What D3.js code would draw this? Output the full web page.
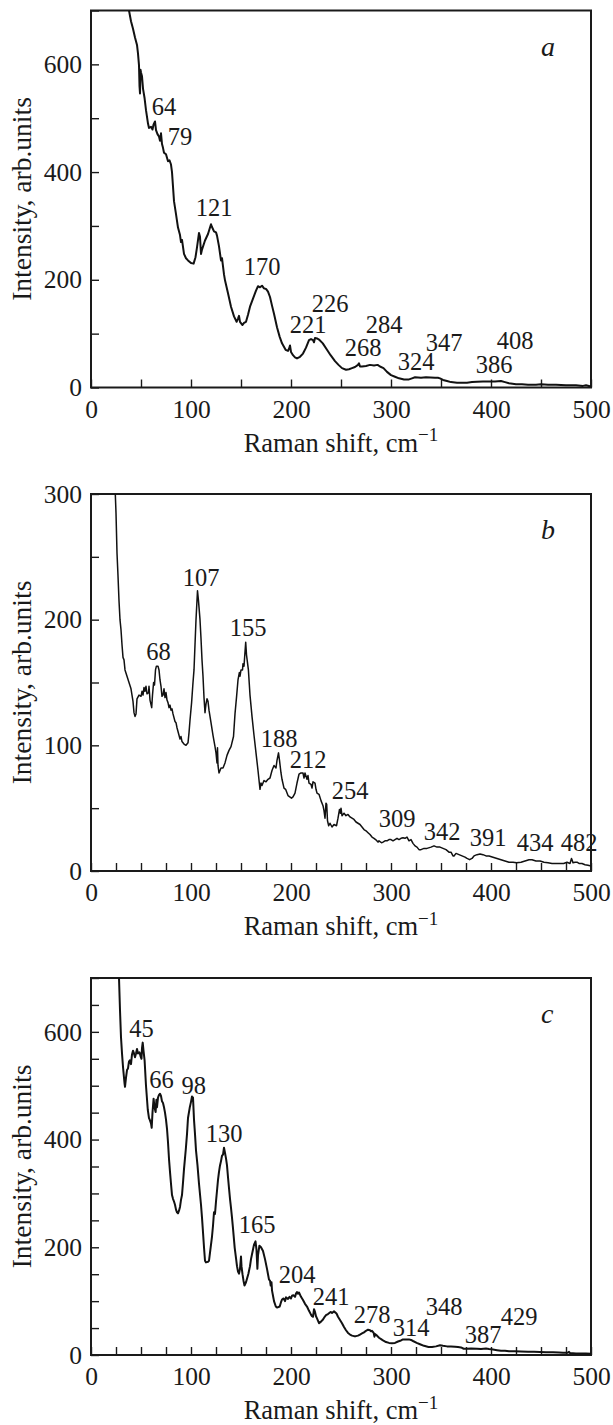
<!DOCTYPE html>
<html>
<head>
<meta charset="utf-8">
<script src="https://cdn.jsdelivr.net/npm/d3@7"></script>
<style>
  body { margin: 0; background: #fff; }
  svg text { font-family: "Liberation Serif", "Times New Roman", "DejaVu Serif", serif; fill: #1a1a1a; }
</style>
</head>
<body>
<div id="chart"></div>
<script>
// spectra: [Raman shift, intensity]
const spectrumA = [[38,700],[40,680],[42,666],[44,650],[46,636],[47,620],[48,598],[48.5,560],[49,546],[49.5,590],[50,585],[51,578],[52,555],[53.6,537],[55,515],[57,490],[58,482],[60,484],[61.5,479],[62.5,488],[64,494],[65,478],[66.6,470],[68,466],[69,458],[70,472],[71,452],[72,445],[73,436],[75,433],[77,420],[78.5,422],[80,414],[81,400],[83,346],[85,322],[87,297],[89,283],[90,270],[91,274],[93,248],[95,240],[97,236],[100,231],[102.6,230],[104.5,242],[106,260],[108,287],[109,280],[110,248],[111,256],[114,273],[117,285],[120,303],[121,298],[123,290],[125,288],[126,282],[128,262],[130,236],[131,240],[133,210],[134,199],[137,175],[140,150],[143,132],[145.6,122],[147,128],[148,133],[149,122],[151.5,116],[153,120],[155,122],[157,135],[159,150],[162,165],[165,180],[167,188],[169,186],[171,189],[173,184],[175,183],[177,178],[179,168],[181,152],[183,137],[186,112],[188.7,94],[191,82],[194.6,70],[197,68],[198,72],[199,78],[200,66],[202,60],[204,56],[206,54],[209,57],[212,63],[215,74],[218,88],[220,90],[222,88],[223,84],[224,92],[226,91],[228,89],[231.8,82],[236,70],[239.6,60],[244,49],[247.5,42],[251,36],[255,33],[258,34],[261,36],[264,38],[267,42],[268,45],[269,39],[271,39],[275,40],[279,42],[283,41],[286.6,42],[289,39],[292.5,36],[296,29],[300,23],[304,20],[308,17],[313,15],[318,15],[321,17],[324,19],[330,18],[335,19],[339.5,18.5],[344,18],[347,18],[349,17],[352,14],[356,12],[360,10],[366,9],[371,9],[376,9],[381,10],[386,10.5],[392,11],[398,11],[404,11],[410,12],[414,10],[418,8],[425,6],[431,6],[437,5],[445,5],[450,6],[457,5],[465,5],[475,4],[485,4],[492,3],[495,4],[500,2]];

const spectrumB = [[24.3,300],[25,285],[26,253],[27,235],[28,215],[29,200],[30,192],[31,180],[32,170],[33,168],[34,160],[36,155],[38,150],[40,145],[42,135],[43,126],[44,123],[45,125],[46,137],[48,140],[50,139],[51,143],[52,140],[53,146],[54,143],[55,147],[56,141],[57.5,142],[58,147],[59,136],[60.7,130],[61.5,140],[62.6,150],[63.5,148],[64.5,160],[65.4,163],[67,163],[68,160],[69,152],[70,147],[71,139],[72,140],[73,145],[74,138],[75,142],[76,136],[77,134],[78,130],[79,132],[80,128],[81,129],[82,125],[84,119],[85,118],[86,114],[88,108],[89,105],[90,107],[91,103],[93,101],[95,100],[97,102],[98,110],[99,120],[100.6,134],[102,150],[103,160],[104,180],[105,200],[106.5,223],[107.5,215],[109,200],[110,185],[111,168],[112,155],[113,138],[114,126],[115,133],[116,137],[117,135],[118,128],[120,118],[122,108],[124,99],[125,94],[126,86],[126.5,98],[127,84],[128,78],[129,80],[130,82],[132,82],[134,86],[136,92],[138,96],[140,99],[142.5,107],[144,125],[145.6,139],[147,152],[148.4,158],[149,155],[150,160],[151.5,160],[152,165],[153,163],[154.7,182],[155.5,172],[157.4,160],[159,140],[161,123],[163,108],[165,94],[167,80],[169,65],[170,70],[171,68],[173,72],[175,71],[177,73],[179,74],[181,80],[183,84],[185,82],[186,88],[187.5,94],[188.5,88],[190,78],[191,73],[193,66],[194.6,65],[197,60],[200.5,58],[202,59],[204,62],[206,70],[208,77],[210,78],[212,78],[213,74],[214,78],[216,73],[217,76],[218,70],[220,69],[221,66],[222,71],[224,70],[225,65],[226,62],[228,61],[230,56],[232,52],[233,48],[234,42],[235,54],[235.7,53],[236.5,40],[237.7,36],[239,38],[241,35],[243,37],[245.5,36],[247,42],[248.5,49],[249.4,46],[250,50],[251,44],[253,46],[255,44],[257,45],[259,43],[261,42],[263,41],[265,39],[267,38],[269,37],[271,35],[273,33],[275,32],[277,30.5],[279,29],[281,27],[283,26],[284.6,25],[287,23],[288,24],[290.5,22.5],[292,23],[294,24],[296,24],[298,25],[300,25],[302,24],[304,25],[306,26],[308,25],[310,26],[312,26.5],[314,26],[316,27],[318,24],[320,25],[322,22],[324,20],[326,19],[328,17],[330,17],[333,18],[336,18],[340,19],[343,20],[346,19],[349,19],[352,18],[355,17],[358,15],[360,15],[362,12],[363,12],[365,14],[368,13],[371,12],[374,11],[376,10],[378.6,9],[381,10],[383,12],[386,13],[389,13.5],[392,13],[395,12],[398,12],[402,11],[406,10],[410,9],[414,8],[418,7],[422,7],[425.6,6.6],[430,7],[434,8],[438,9],[441,9],[445,8],[449,8],[453,7],[457,6.6],[461,6],[465,6],[469,6],[472.6,6],[476,7],[479,6],[480.5,10],[481,9],[482,6.6],[484,7],[486,7],[488,6],[491,6],[494,5],[497,4.5],[500,4]];

const spectrumC = [[28,700],[29,640],[30,590],[31,560],[32,535],[33.5,505],[34,498],[35,515],[36,529],[37,532],[38,545],[38.8,547],[40,540],[41,558],[42,565],[43,560],[44,553],[45,560],[46,568],[47,560],[48.5,562],[49.5,555],[50.5,550],[51,570],[51.7,580],[52.5,565],[53.6,547],[55,500],[56.8,455],[58,440],[58.7,437],[60,430],[60.7,422],[61.5,450],[62.6,476],[63.5,460],[64.6,451],[65.4,474],[66,460],[67,478],[68,483],[69,485],[70,481],[71,471],[72,468],[73,460],[74,450],[75,437],[76,420],[77,395],[78,364],[79,340],[80,318],[81,297],[82,290],[83,285],[84,279],[85,270],[86,265],[87,263],[88,268],[89,275],[90,288],[91,297],[92,320],[93,345],[94.8,382],[96,410],[97,440],[98.7,459],[100,470],[101,480],[101.4,472],[102,478],[103,437],[104,410],[105,380],[106.5,352],[108,318],[110,279],[111,255],[112,228],[113,200],[114,175],[115,172],[117,173],[118,175],[119,190],[120,205],[121,220],[122,240],[123,265],[124,262],[125,285],[126,305],[127,325],[128,340],[129,352],[130,360],[131,370],[132,372],[133,385],[134,375],[135,365],[136,352],[137,330],[138,310],[139,290],[140,273],[141,255],[142,235],[143.7,199],[145,180],[146,165],[147,155],[148,151],[149,160],[150,183],[150.5,165],[151.5,150],[152.5,138],[153.5,129],[155,135],[157.4,151],[159,165],[160,178],[161,187],[162,196],[163,205],[164.5,211],[165.5,195],[166.4,160],[167,185],[168.4,203],[170,200],[172,193],[174,178],[176,160],[177,150],[178,140],[179,138],[179.7,129],[180.5,135],[181,120],[182,110],[183,100],[184.8,90],[186,88],[188.7,90],[190,98],[191,103],[192.6,105],[194,100],[195,107],[197,104],[198.5,108],[200,105],[201,110],[202.4,111],[204,108],[205,114],[206,117],[207,114],[208,116],[210,108],[212,102],[214,95],[216,90],[218,82],[220,75],[221,72],[222,71],[223,85],[224,80],[225,72],[226,68],[228,59],[230,62],[232,66],[233.7,71],[235,74],[237,76],[239.6,80],[241,78],[243,81],[245.5,77],[247,71],[249,65],[251,59],[253,52],[255,46],[257,41],[259,38],[261,36],[263,35],[265,35],[267,36],[269,38],[271,40],[273,42],[275,45],[277,47],[279,46],[280,44],[281,45],[282.7,41],[283.5,34],[284,39],[286,36],[288,32],[290.5,29],[292,27],[295,24],[298,22.5],[301,22],[304,22.5],[307,25],[310,27],[312,29],[315,29],[318,29],[320,28],[322,26],[325.7,22.5],[329,20],[333,17],[337.5,15],[341,15],[345,16],[349,18],[352,17],[356,16],[360,16],[364,15.5],[367,15],[370,14],[372.7,11.6],[376,11.5],[380,12],[386,11.6],[390,11],[395,12],[398,11],[402,10],[406,9],[410,8],[414,8],[418,7],[424,7],[430,6.5],[437,6],[443,6],[449,5.5],[455,5],[462,5],[468,4.5],[472,4],[476.5,4],[478,6],[479,3.5],[485,3],[490,3],[495,2.8],[500,2.4]];

// peak labels: [text, shift, intensity] (anchor of the number, data units)
const peaksA = [["64",73,506],["79",89,450],["121",123,319],["170",171,209],["226",239,141],["221",217,101],["284",293,101],["268",272,59],["347",353,68],["324",325,33],["408",424,72],["386",403,27]];
const peaksB = [["68",67.5,168],["107",110,227],["155",157,187],["188",188,99],["212",217,82],["254",259,57],["309",306,35],["342",351,25],["391",397,20],["434",444,16],["482",488,16]];
const peaksC = [["45",50.5,591],["66",70.5,495],["98",102.7,484],["130",133,396],["165",166,227],["204",206,133],["241",240,93],["278",281,60],["314",320,35],["348",353,75],["387",392,23],["429",428,56]];

const panelLetters = ["a", "b", "c"];
const xDomain = [0, 500];
const yMaxes = [700, 300, 700];
const yLabelSteps = [200, 100, 200];
const yTickSteps = [100, 50, 50];
const xTickSteps = [50, 25, 25];

const width = 613, height = 1425;
const left = 91, right = 591;
const tops = [10.5, 494, 978];
const plotH = 377;
const serif = '"Liberation Serif", "Times New Roman", "DejaVu Serif", serif';

let svg = d3.select("#chart")
    .append("svg")
    .attr("width", width)
    .attr("height", height)
    .attr("font-family", serif);

let spectra = [spectrumA, spectrumB, spectrumC];
let peaks = [peaksA, peaksB, peaksC];

function drawPanel(i) {
    let top = tops[i], bottom = tops[i] + plotH;

    let x = d3.scaleLinear().domain(xDomain).range([left, right]);
    let y = d3.scaleLinear().domain([0, yMaxes[i]]).range([bottom, top]);

    let g = svg.append("g");

    g.append("clipPath")
        .attr("id", "clip" + i)
        .append("rect")
        .attr("x", left).attr("y", top)
        .attr("width", right - left).attr("height", plotH);

    // x axis, ticks pointing in
    let xAxis = g.append("g")
        .attr("transform", `translate(0, ${bottom})`)
        .call(d3.axisBottom(x)
            .tickValues(d3.range(0, 500.1, xTickSteps[i]))
            .tickSize(-8)
            .tickPadding(12)
            .tickFormat(d => d % 100 === 0 ? d : ""));
    xAxis.select(".domain").remove();

    let yAxis = g.append("g")
        .attr("transform", `translate(${left}, 0)`)
        .call(d3.axisLeft(y)
            .tickValues(d3.range(0, yMaxes[i] + 0.1, yTickSteps[i]))
            .tickSize(-8)
            .tickPadding(9)
            .tickFormat(d => d % yLabelSteps[i] === 0 ? d : ""));
    yAxis.select(".domain").remove();

    g.selectAll("g").attr("font-family", serif).attr("font-size", 25.5);
    g.selectAll(".tick line").attr("stroke", "#1a1a1a").attr("stroke-width", 1.4);
    g.selectAll(".tick text").attr("fill", "#1a1a1a");

    // frame
    g.append("rect")
        .attr("x", left).attr("y", top)
        .attr("width", right - left).attr("height", plotH)
        .attr("fill", "none")
        .attr("stroke", "#1a1a1a")
        .attr("stroke-width", 2);

    let line = d3.line()
        .x(d => x(d[0]))
        .y(d => y(d[1]));

    g.append("path")
        .datum(spectra[i])
        .attr("clip-path", `url(#clip${i})`)
        .attr("fill", "none")
        .attr("stroke", "#111")
        .attr("stroke-width", i === 1 ? 1.5 : 2)
        .attr("stroke-linejoin", "round")
        .attr("d", line);

    g.selectAll(".peak")
        .data(peaks[i])
        .enter()
        .append("text")
        .attr("class", "peak")
        .attr("x", d => x(d[1]))
        .attr("y", d => y(d[2]))
        .style("text-anchor", "middle")
        .style("font-size", "24.5px")
        .text(d => d[0]);

    g.append("text")
        .attr("x", 541)
        .attr("y", top + 45)
        .style("font-size", "28px")
        .style("font-style", "italic")
        .text(panelLetters[i]);

    // axis titles
    let xt = g.append("text")
        .attr("x", (left + right) / 2)
        .attr("y", bottom + 64)
        .style("text-anchor", "middle")
        .style("font-size", "26.5px");
    xt.append("tspan").text("Raman shift, cm");
    xt.append("tspan").attr("dy", "-0.55em").style("font-size", "19px").text("\u22121");

    g.append("text")
        .attr("transform", `translate(31, ${(top + bottom) / 2}) rotate(-90)`)
        .style("text-anchor", "middle")
        .style("font-size", "27.5px")
        .text("Intensity, arb.units");
}

[0, 1, 2].forEach(drawPanel);
</script>
</body>
</html>
